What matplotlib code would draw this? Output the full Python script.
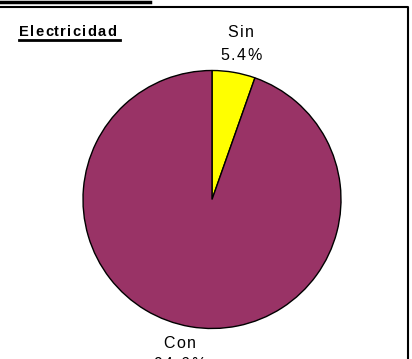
import numpy as np
import matplotlib.pyplot as plt
from matplotlib.lines import Line2D

# datos
categorias = ['Sin', 'Con']
porcentajes = [5.4, 94.6]
colores = ['#FFFF00', '#993366']
titulo = 'Electricidad'

W, H = 412, 359
fig = plt.figure(figsize=(W / 100, H / 100), dpi=100)
ax = fig.add_axes([0, 0, 1, 1])
ax.set_xlim(0, W)
ax.set_ylim(0, H)
ax.set_aspect('equal')
ax.axis('off')
rend = fig.canvas.get_renderer()


def texto_espaciado(x, y, s, esp, ha='center', **kw):
    # dibuja letra por letra para imitar el espaciado ancho de Excel
    anchos = []
    for ch in s:
        t = ax.text(0, 0, ch, **kw)
        anchos.append(t.get_window_extent(rend).width)
        t.remove()
    total = sum(anchos) + esp * (len(s) - 1)
    x0 = x - total / 2 if ha == 'center' else x
    for ch, w in zip(s, anchos):
        ax.text(x0, y, ch, ha='left', va='center', **kw)
        x0 += w + esp
    return x0


centro = (212, H - 199.5)
radio = 129
cunas, _ = ax.pie(porcentajes, colors=colores, startangle=90, counterclock=False,
                  center=centro, radius=radio,
                  wedgeprops=dict(edgecolor='black', linewidth=1))
ax.set_xlim(0, W)
ax.set_ylim(0, H)
ax.axis('off')

# etiquetas fuera de la torta
distancias = [1.225, 1.215]
desplaz = [2, -6]
interlinea = [23, 21]
for w, nom, p, d, dx, il in zip(cunas, categorias, porcentajes, distancias,
                                desplaz, interlinea):
    ang = np.deg2rad((w.theta1 + w.theta2) / 2)
    x = centro[0] + radio * d * np.cos(ang) + dx
    y = centro[1] + radio * d * np.sin(ang)
    for k, linea in enumerate([nom, f'{p}%']):
        texto_espaciado(x, y + il / 2 - il * k, linea, 1.5, fontsize=11.5,
                        family='Liberation Sans')

# titulo subrayado
texto_espaciado(19, H - 32, titulo, 1.3, ha='left', fontsize=10.5,
                fontweight='bold', family='Liberation Sans')
ax.add_line(Line2D([19, 120], [H - 40, H - 40], color='black', lw=2))

# marco
ax.add_line(Line2D([0, 150], [H - 1.5, H - 1.5], color='black', lw=2.5))
ax.add_line(Line2D([0, 408.5, 408.5], [H - 7, H - 7, 0], color='black', lw=1.5))

fig.savefig('out.png', dpi=100)
